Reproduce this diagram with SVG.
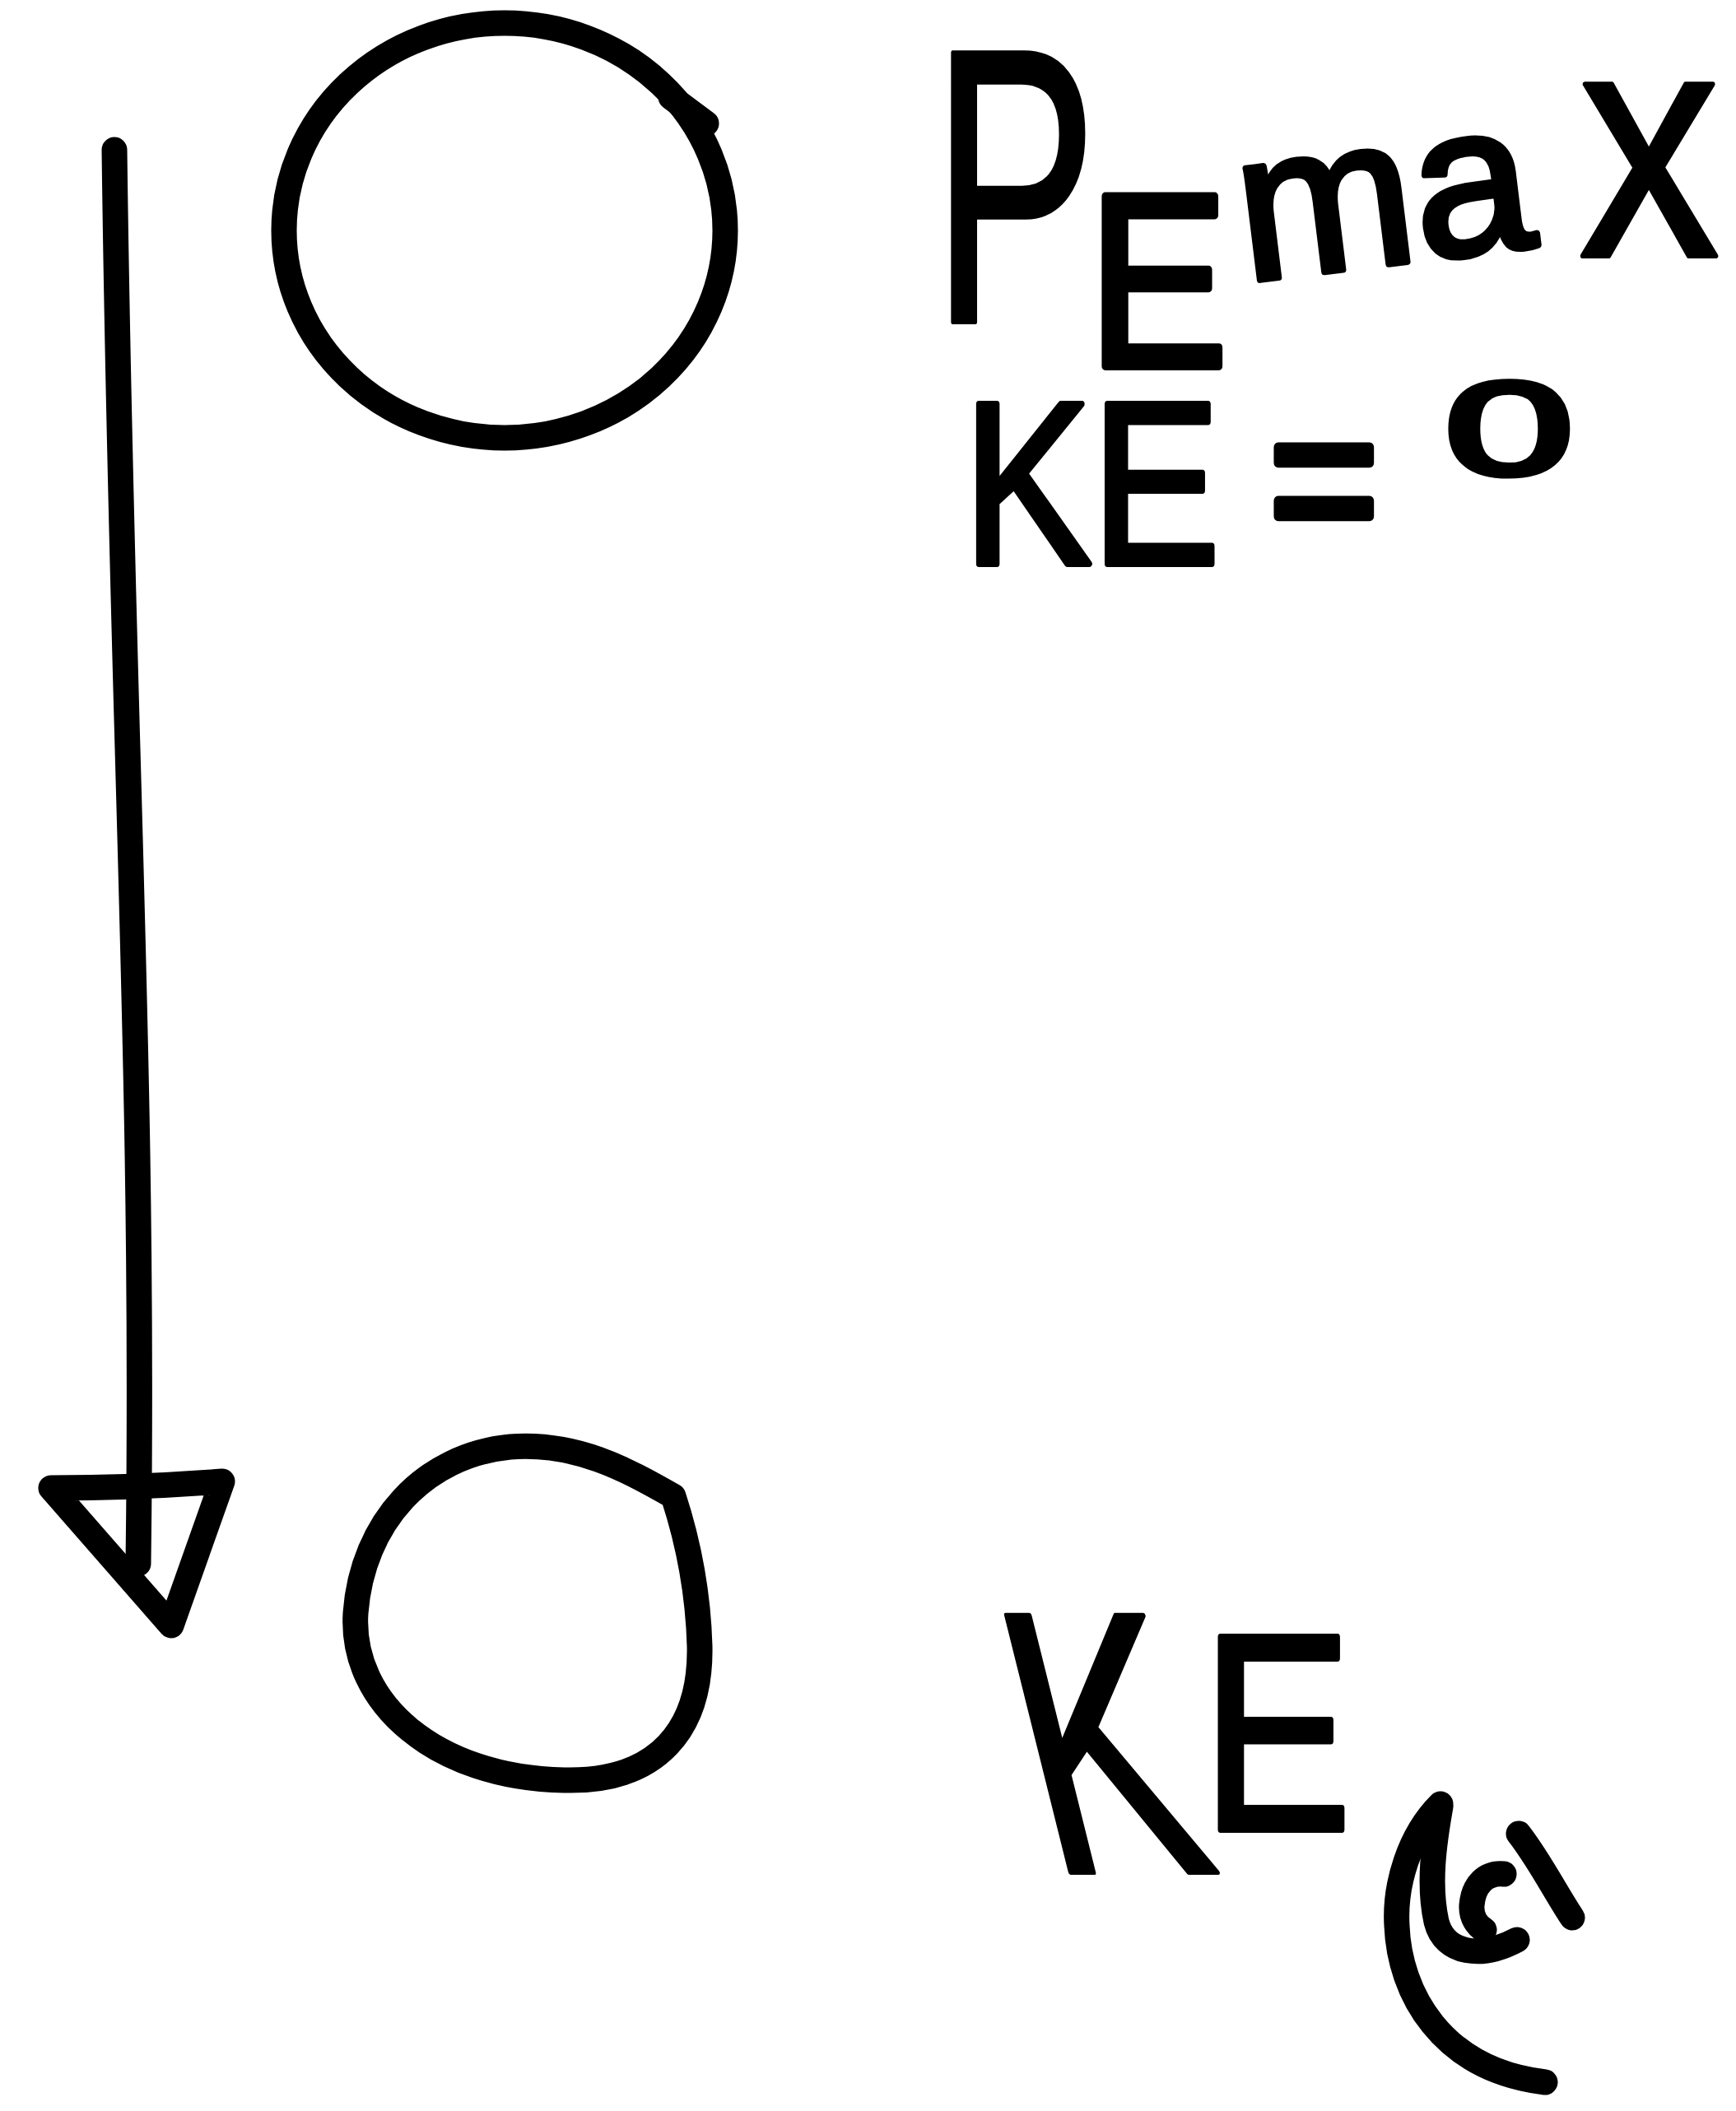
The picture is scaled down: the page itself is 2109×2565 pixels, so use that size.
<svg xmlns="http://www.w3.org/2000/svg" width="2109" height="2565" viewBox="0 0 2109 2565">
<style>
.ink{fill:none;stroke:#000;stroke-width:31;stroke-linecap:round;stroke-linejoin:round}
.t{font-family:"Liberation Sans",Arial,sans-serif;fill:#000;stroke:#000;stroke-linejoin:round;stroke-linecap:round}
</style>
<rect width="2109" height="2565" fill="#fff"/>
<g id="ball-top">
<ellipse class="ink" cx="613" cy="280" rx="268" ry="252"/>
<path class="ink" d="M815 118 L858 150"/>
</g>
<g id="ball-bottom">
<path class="ink" d="M818 1818 C760 1785 700 1752 620 1758 C515 1768 440 1850 432 1960 C425 2070 530 2160 685 2163 C800 2166 852 2100 850 2000 C848 1930 835 1870 818 1818"/>
</g>
<g id="connectors">
<path class="ink" d="M139 182 C148 900 176 1300 168 1900"/>
<path class="ink" d="M62 1808 Q165 1808 270 1800 L208 1975 Z"/>
</g>
<g id="label-top">
<text class="t" transform="translate(1156 391) scale(0.63 1)" x="-37" y="0" font-size="475" stroke-width="6">P</text>
<text class="t" transform="translate(1343 445) scale(0.85 1)" x="-25" y="0" font-size="300" stroke-width="10">E</text>
<text class="t" transform="translate(1530 340) rotate(-7)" x="-17" y="0" font-size="258" stroke-width="8">ma</text>
<text class="t" transform="translate(1922 311) scale(0.86 1)" x="-4" y="0" font-size="395" stroke-width="6">x</text>
<text class="t" transform="translate(1170 685) scale(0.83 1)" x="0" y="0" font-size="282" stroke-width="8">KE</text>
<text class="t" transform="translate(1553 671) scale(0.88 1)" x="-13" y="0" font-size="260" stroke-width="12">=</text>
<text class="t" transform="translate(1766 576) scale(1.75 1)" x="-6" y="0" font-size="160" stroke-width="8">0</text>
</g>
<g id="label-bottom">
<text class="t" transform="translate(1297 2275) skewX(14) scale(0.69 1)" x="-33" y="0" font-size="454" stroke-width="6">K</text>
<text class="t" transform="translate(1482 2223) scale(0.8 1)" x="-27" y="0" font-size="340" stroke-width="8">E</text>
<path class="ink" d="M1750 2192 C1712 2230 1694 2290 1697 2340 C1700 2420 1750 2515 1877 2530"/>
<path class="ink" d="M1750 2195 C1742 2240 1735 2290 1745 2335 C1755 2375 1800 2380 1843 2357"/>
<path class="ink" d="M1827 2277 C1805 2275 1790 2290 1788 2315 C1787 2330 1795 2340 1803 2345"/>
<path class="ink" d="M1845 2228 C1870 2260 1890 2300 1910 2330"/>
</g>
</svg>
